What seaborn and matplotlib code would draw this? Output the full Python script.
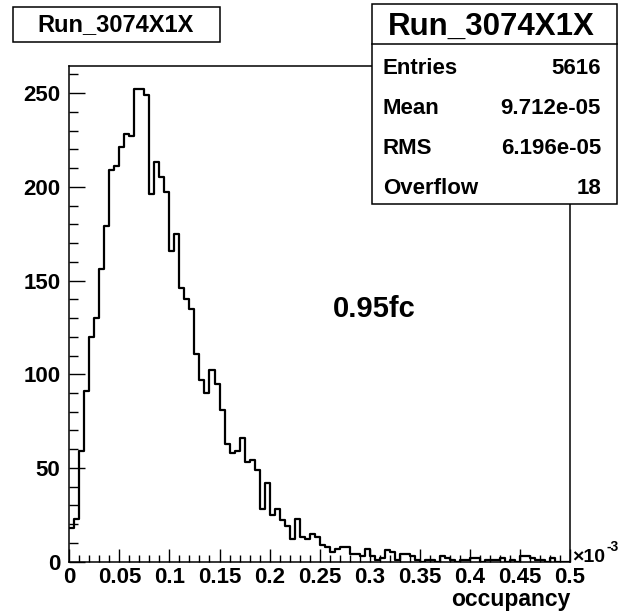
import numpy as np
import pandas as pd
import matplotlib
matplotlib.use("Agg")
import matplotlib.pyplot as plt
from matplotlib.patches import Rectangle
from matplotlib.ticker import MultipleLocator
import seaborn as sns

# ---- data (occupancy in units of 1e-3) ----
bin_lo, bin_hi, n_bins = 0.0, 0.5, 100
counts = [18, 23, 59, 91, 120, 130, 156, 179, 209, 211,
          221, 228, 227, 252, 252, 249, 196, 213, 205, 197,
          166, 175, 146, 140, 135, 111, 97, 90, 102, 95,
          81, 63, 58, 59, 66, 53, 54, 49, 28, 42,
          25, 28, 22, 19, 12, 23, 13, 12, 15, 13,
          9, 8, 5, 7, 8, 8, 4, 4, 3, 7,
          3, 1, 2, 6, 5, 1, 4, 4, 3, 1,
          0, 1, 1, 0, 3, 2, 1, 0, 1, 1,
          2, 2, 0, 1, 1, 1, 2, 0, 1, 0,
          3, 3, 2, 1, 1, 0, 2, 0, 0, 0]
xtick_vals = [0, 0.05, 0.1, 0.15, 0.2, 0.25, 0.3, 0.35, 0.4, 0.45, 0.5]
xtick_labels = ["0", "0.05", "0.1", "0.15", "0.2", "0.25", "0.3", "0.35", "0.4", "0.45", "0.5"]
ytick_vals = [0, 50, 100, 150, 200, 250]
ytick_labels = ["0", "50", "100", "150", "200", "250"]
hist_title = "Run_3074X1X"
stat_names = ["Entries", "Mean", "RMS", "Overflow"]
stat_values = ["5616", "9.712e-05", "6.196e-05", "18"]
annotation = "0.95fc"
x_label = "occupancy"

binwidth = (bin_hi - bin_lo) / n_bins
centers = bin_lo + binwidth * (np.arange(n_bins) + 0.5)
df = pd.DataFrame({"occupancy": centers, "count": np.asarray(counts, dtype=float)})

plt.rcParams["font.family"] = ["Liberation Sans", "DejaVu Sans"]
plt.rcParams["font.weight"] = "bold"

W, H = 623, 612
fig = plt.figure(figsize=(W / 100, H / 100), dpi=100)
fig.patch.set_facecolor("white")

def fx(x):
    return x / W

def fy(y):
    return 1 - y / H

L, R, T, B = 69.3, 570.0, 65.7, 561.7
ax = fig.add_axes([fx(L), fy(B), (R - L) / W, (B - T) / H])

sns.histplot(data=df, x="occupancy", weights="count", binwidth=binwidth,
             binrange=(bin_lo, bin_hi), element="step", fill=False,
             color="black", linewidth=1.6, ax=ax)

ax.set_xlim(bin_lo, bin_hi)
ax.set_ylim(0, max(counts) * 1.05)
ax.set_xticks(xtick_vals)
ax.set_xticklabels(xtick_labels)
ax.set_yticks(ytick_vals)
ax.set_yticklabels(ytick_labels)
ax.xaxis.set_minor_locator(MultipleLocator(0.01))
ax.yaxis.set_minor_locator(MultipleLocator(10))
ax.tick_params(axis="x", which="major", direction="in", length=9.5, width=1.0,
               labelsize=16, pad=4, top=False)
ax.tick_params(axis="x", which="minor", direction="in", length=4.8, width=1.0, top=False)
ax.tick_params(axis="y", which="major", direction="in", length=11.5, width=1.0,
               labelsize=16, pad=6.5, right=False)
ax.tick_params(axis="y", which="minor", direction="in", length=6.5, width=1.0, right=False)
for lab in ax.get_xticklabels() + ax.get_yticklabels():
    lab.set_fontweight("bold")
for s in ax.spines.values():
    s.set_linewidth(1.1)
    s.set_color("black")
ax.set_ylabel("")
ax.set_xlabel(x_label, loc="right", fontsize=16.5, fontweight="bold", labelpad=0)

# annotation
ax.text(0.305, 135, annotation, fontsize=21, fontweight="bold", ha="center", va="center")

# x10^-3 multiplier
fig.text(fx(572), fy(561.5), "\u00d710", fontsize=14, fontweight="bold", ha="left", va="baseline")
fig.text(fx(606.5), fy(551), "-3", fontsize=10, fontweight="bold", ha="left", va="baseline")

# title box (top-left)
fig.patches.append(Rectangle((fx(13), fy(42)), 207 / W, 35 / H, transform=fig.transFigure,
                             facecolor="white", edgecolor="black", linewidth=1.1, zorder=5))
fig.text(fx(116), fy(25), hist_title, fontsize=17, fontweight="bold", ha="center",
         va="center", zorder=6)

# stats box
sx0, sx1, sy0, sy1, sdiv = 372, 617, 4, 204, 44
fig.patches.append(Rectangle((fx(sx0), fy(sy1)), (sx1 - sx0) / W, (sy1 - sy0) / H,
                             transform=fig.transFigure, facecolor="white",
                             edgecolor="black", linewidth=1.1, zorder=5))
fig.lines.append(plt.Line2D([fx(sx0), fx(sx1)], [fy(sdiv), fy(sdiv)],
                            transform=fig.transFigure, color="black", linewidth=1.1, zorder=6))
fig.text(fx(491.5), fy(35), hist_title, fontsize=22.5, fontweight="bold", ha="center",
         va="baseline", zorder=6)
row_base = [73.5, 114, 154, 193.5]
for name, val, yy in zip(stat_names, stat_values, row_base):
    fig.text(fx(383), fy(yy), name, fontsize=16, fontweight="bold", ha="left",
             va="baseline", zorder=6)
    fig.text(fx(601), fy(yy), val, fontsize=16, fontweight="bold", ha="right",
             va="baseline", zorder=6)

fig.savefig("out.png", dpi=100)
